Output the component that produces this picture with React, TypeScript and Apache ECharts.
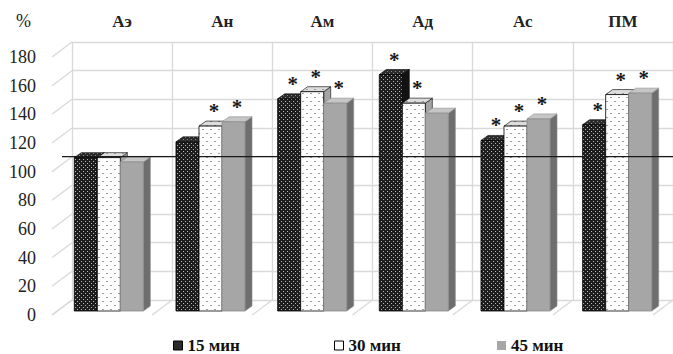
import React, { useEffect, useRef } from "react";
import * as echarts from "echarts";

const categories = ["Аэ", "Ан", "Ам", "Ад", "Ас", "ПМ"];
const seriesNames = ["15 мин", "30 мин", "45 мин"];
const values15 = [107, 118, 148, 165, 119, 130];
const values30 = [107, 129, 153, 145, 129, 151];
const values45 = [104, 132, 145, 138, 134, 152];
const stars15 = [false, false, true, true, true, true];
const stars30 = [false, true, true, true, true, true];
const stars45 = [false, true, true, false, true, true];
const yMin = 0;
const yMax = 180;
const yStep = 20;
const controlLevel = 100;

const SERIF = "'Liberation Serif', 'DejaVu Serif', serif";
const DEPTH_X = 7;
const DEPTH_Y = -5;

function makeTile(size: number, bg: string, dotColor: string, dots: number[][]) {
  const c = document.createElement("canvas");
  c.width = size;
  c.height = size;
  const g = c.getContext("2d")!;
  g.fillStyle = bg;
  g.fillRect(0, 0, size, size);
  g.fillStyle = dotColor;
  dots.forEach(([x, y, w, h]) => g.fillRect(x, y, w, h));
  return { image: c, repeat: "repeat", imageWidth: size, imageHeight: size };
}

export default function App() {
  const ref = useRef<HTMLDivElement>(null);
  useEffect(() => {
    const chart = echarts.init(ref.current!, null, { renderer: "svg" });

    const darkFront = makeTile(4, "#1e1e1e", "#b5b5b5", [[1, 1, 1, 1], [3, 3, 1, 1]]);
    const darkTop = makeTile(4, "#2c2c2c", "#8a8a8a", [[1, 1, 1, 1], [3, 3, 1, 1]]);
    const whiteFront = makeTile(8, "#ffffff", "#a0a0a0", [[2, 1, 2, 1], [6, 5, 2, 1]]);
    const whiteTop = makeTile(8, "#dcdcdc", "#9a9a9a", [[2, 1, 2, 1], [6, 5, 2, 1]]);

    const faces = [
      { front: darkFront, top: darkTop, side: "#121212", stroke: "#000" },
      { front: whiteFront, top: whiteTop, side: "#a4a4a4", stroke: "#000" },
      { front: "#a6a6a6", top: "#c6c6c6", side: "#6e6e6e", stroke: "#8c8c8c" },
    ];
    const allValues = [values15, values30, values45];
    const allStars = [stars15, stars30, stars45];

    const makeRender = (si: number) => (params: any, api: any) => {
      const cat = api.value(0);
      const val = api.value(1);
      const star = api.value(2);
      const base = api.coord([cat, 0]);
      const top = api.coord([cat, val]);
      const bandW = api.size([1, 0])[0];
      const barW = bandW * 0.2264;
      const x0 = base[0] - (barW * 3) / 2 + si * barW;
      const x1 = x0 + barW;
      const yt = top[1];
      const yb = base[1];
      const f = faces[si];
      const children: any[] = [
        {
          type: "polygon",
          shape: { points: [[x1, yt], [x1 + DEPTH_X, yt + DEPTH_Y], [x1 + DEPTH_X, yb + DEPTH_Y], [x1, yb]] },
          style: { fill: f.side, stroke: f.stroke, lineWidth: 0.6 },
        },
        {
          type: "polygon",
          shape: { points: [[x0, yt], [x1, yt], [x1 + DEPTH_X, yt + DEPTH_Y], [x0 + DEPTH_X, yt + DEPTH_Y]] },
          style: { fill: f.top, stroke: f.stroke, lineWidth: 0.6 },
        },
        {
          type: "rect",
          shape: { x: x0, y: yt, width: barW, height: yb - yt },
          style: { fill: f.front, stroke: f.stroke, lineWidth: 0.8 },
        },
      ];
      if (star) {
        children.push({
          type: "text",
          x: x0 + barW / 2 + DEPTH_X / 2,
          y: yt - 15,
          style: {
            text: "*",
            fill: "#1a1a1a",
            fontFamily: SERIF,
            fontSize: 21,
            fontWeight: "bold",
            align: "center",
            verticalAlign: "middle",
          },
        });
      }
      return { type: "group", children };
    };

    const legendIcons = [
      { color: "#2a2a2a", borderColor: "#000", borderWidth: 1 },
      { color: "#ffffff", borderColor: "#000", borderWidth: 1 },
      { color: "#a6a6a6", borderColor: "#a6a6a6", borderWidth: 0 },
    ];
    const legendLeft = [173, 334, 497];

    const option: any = {
      animation: false,
      backgroundColor: "#ffffff",
      title: {
        text: "%",
        left: 16,
        top: 12,
        padding: 0,
        textStyle: { fontFamily: SERIF, fontSize: 18, fontWeight: "normal", color: "#222" },
      },
      legend: seriesNames.map((n, i) => ({
        data: [{ name: n, icon: "rect", itemStyle: legendIcons[i] }],
        left: legendLeft[i],
        top: 337,
        padding: 0,
        itemWidth: 9,
        itemHeight: 9,
        itemGap: 3,
        selectedMode: false,
        textStyle: { fontFamily: SERIF, fontSize: 17, fontWeight: "bold", color: "#111" },
      })),
      grid: [
        { left: 58, width: 610, top: 53, height: 258 },
        { left: 72, width: 610, top: 42, height: 258 },
        { left: 52, width: 610, top: 57, height: 258 },
      ],
      xAxis: [
        { type: "category", gridIndex: 0, data: categories, show: false },
        {
          type: "category",
          gridIndex: 1,
          data: categories,
          position: "top",
          axisLine: { show: false },
          axisTick: { show: false },
          axisLabel: { margin: 12, fontFamily: SERIF, fontSize: 17, fontWeight: "bold", color: "#222" },
          splitLine: { show: true, lineStyle: { color: "#d9d9d9", width: 1.3 } },
        },
        { type: "category", gridIndex: 2, data: categories, show: false },
      ],
      yAxis: [
        { type: "value", gridIndex: 0, min: yMin, max: yMax, interval: yStep, show: false },
        {
          type: "value",
          gridIndex: 1,
          min: yMin,
          max: yMax,
          interval: yStep,
          axisLine: { show: false },
          axisTick: { show: false },
          axisLabel: { show: false },
          splitLine: { show: true, lineStyle: { color: "#d9d9d9", width: 1.3 } },
        },
        {
          type: "value",
          gridIndex: 2,
          min: yMin,
          max: yMax,
          interval: yStep,
          axisLine: { show: false },
          axisTick: { show: false },
          splitLine: { show: false },
          axisLabel: { margin: 16, fontFamily: SERIF, fontSize: 18, color: "#222" },
        },
      ],
      series: seriesNames.map((n, si) => ({
        name: n,
        type: "custom",
        xAxisIndex: 0,
        yAxisIndex: 0,
        itemStyle: { color: legendIcons[si].color },
        encode: { x: 0, y: 1 },
        data: categories.map((c, i) => [i, allValues[si][i], allStars[si][i] ? 1 : 0]),
        renderItem: makeRender(si),
        z: 3,
      })),
    };
    chart.setOption(option);

    const pt = (x: number, y: number) => chart.convertToPixel({ gridIndex: 1 }, [x, y]) as number[];
    const c0 = pt(0, 0);
    const c1 = pt(1, 0);
    const bandW = c1[0] - c0[0];
    const wallLeft = c0[0] - bandW / 2;
    const floorY = c0[1];
    const lineStyle = { stroke: "#d9d9d9", lineWidth: 1.3 };
    const graphics: any[] = [];
    for (let v = yMin; v <= yMax; v += yStep) {
      const y = pt(0, v)[1];
      graphics.push({ type: "line", z: 0, shape: { x1: wallLeft, y1: y, x2: wallLeft - 20, y2: y + 15 }, style: lineStyle });
    }
    for (let k = 0; k <= categories.length; k++) {
      const x = wallLeft + k * bandW;
      graphics.push({ type: "line", z: 0, shape: { x1: x, y1: floorY, x2: x - 20, y2: floorY + 15 }, style: lineStyle });
    }
    const cy = pt(0, controlLevel)[1];
    graphics.push({
      type: "line",
      z: 10,
      shape: { x1: wallLeft - 10, y1: cy, x2: 673, y2: cy },
      style: { stroke: "#1a1a1a", lineWidth: 1.4 },
    });
    chart.setOption({ graphic: graphics });

    return () => chart.dispose();
  }, []);
  return <div ref={ref} style={{ position: "fixed", left: 0, top: 0, width: 673, height: 354 }} />;
}
